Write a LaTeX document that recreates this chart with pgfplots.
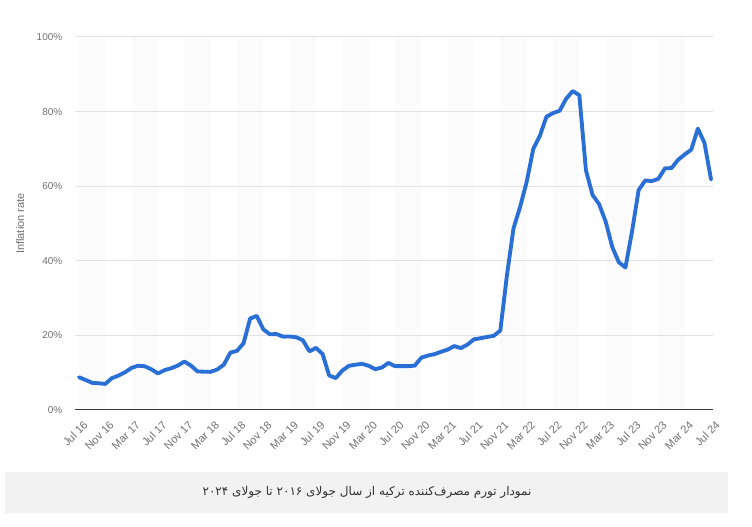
\documentclass[border=0pt]{standalone}
\usepackage{fontspec}
\setmainfont{Liberation Sans}
\newfontfamily\arabicfont[Script=Arabic]{DejaVu Sans}
\TeXXeTstate=1
\usepackage{pgfplots}
\pgfplotsset{compat=1.18}
\definecolor{lineblue}{HTML}{2A6FD6}
\definecolor{tickgray}{HTML}{707070}
\definecolor{gridgray}{HTML}{E3E3E3}
\definecolor{stripe}{HTML}{FBFBFB}
\definecolor{capbg}{HTML}{F2F2F2}
\definecolor{basegray}{HTML}{3A3A3A}
\begin{document}
\begin{tikzpicture}
\begin{scope}[x=0.75pt,y=0.75pt]
\path[use as bounding box] (0,0) rectangle (752,527);
\fill[capbg] (5,14) rectangle (728,55);
\node[font=\arabicfont\fontsize{9pt}{11pt}\selectfont, text=black!80] at (367,34.5) {\beginR نمودار تورم مصرف‌کننده ترکیه از سال جولای ۲۰۱۶ تا جولای ۲۰۲۴\endR};
\end{scope}
\begin{axis}[
  at={(56.25pt,87.75pt)}, anchor=south west,
  scale only axis, width=478.5pt, height=279.75pt,
  xmin=-0.6, xmax=96.3, ymin=0, ymax=100,
  set layers,
  axis line style={draw=none},
  major tick length=0pt,
  /pgf/number format/assume math mode=true,
  ytick={0,20,...,100},
  yticklabel={\pgfmathprintnumber{\tick}\%},
  yticklabel style={font=\fontsize{7.5pt}{9pt}\selectfont, text=tickgray, anchor=east, xshift=-6pt},
  ymajorgrids,
  grid style={gridgray, line width=0.75pt},
  xtick={0,4,...,96},
  xticklabels={Jul 16,Nov 16,Mar 17,Jul 17,Nov 17,Mar 18,Jul 18,Nov 18,Mar 19,Jul 19,Nov 19,Mar 20,Jul 20,Nov 20,Mar 21,Jul 21,Nov 21,Mar 22,Jul 22,Nov 22,Mar 23,Jul 23,Nov 23,Mar 24,Jul 24},
  xticklabel style={font=\fontsize{8.3pt}{10pt}\selectfont, text=tickgray, rotate=45, anchor=north east, xshift=0pt, yshift=-4pt},
  ylabel={Inflation rate},
  ylabel style={font=\fontsize{8.3pt}{10pt}\selectfont, text=tickgray, at={(axis description cs:-0.086,0.5)}, anchor=center},
]
\begin{pgfonlayer}{axis background}
\fill[stripe] (axis cs:0,0) rectangle (axis cs:4,100);
\fill[stripe] (axis cs:8,0) rectangle (axis cs:12,100);
\fill[stripe] (axis cs:16,0) rectangle (axis cs:20,100);
\fill[stripe] (axis cs:24,0) rectangle (axis cs:28,100);
\fill[stripe] (axis cs:32,0) rectangle (axis cs:36,100);
\fill[stripe] (axis cs:40,0) rectangle (axis cs:44,100);
\fill[stripe] (axis cs:48,0) rectangle (axis cs:52,100);
\fill[stripe] (axis cs:56,0) rectangle (axis cs:60,100);
\fill[stripe] (axis cs:64,0) rectangle (axis cs:68,100);
\fill[stripe] (axis cs:72,0) rectangle (axis cs:76,100);
\fill[stripe] (axis cs:80,0) rectangle (axis cs:84,100);
\fill[stripe] (axis cs:88,0) rectangle (axis cs:92,100);
\end{pgfonlayer}
\draw[basegray, line width=1.1pt] (axis cs:-0.6,0) -- (axis cs:96.3,0);
\addplot[lineblue, line width=2.9pt, line join=round, line cap=round, no markers] coordinates {
(0,8.79) (1,8.05) (2,7.28) (3,7.16) (4,7.00) (5,8.53) (6,9.22) (7,10.13)
(8,11.29) (9,11.87) (10,11.72) (11,10.90) (12,9.79) (13,10.68) (14,11.20) (15,11.90)
(16,12.98) (17,11.92) (18,10.35) (19,10.26) (20,10.23) (21,10.85) (22,12.15) (23,15.39)
(24,15.85) (25,17.90) (26,24.52) (27,25.24) (28,21.62) (29,20.30) (30,20.35) (31,19.67)
(32,19.71) (33,19.50) (34,18.71) (35,15.72) (36,16.65) (37,15.01) (38,9.26) (39,8.55)
(40,10.56) (41,11.84) (42,12.15) (43,12.37) (44,11.86) (45,10.94) (46,11.39) (47,12.62)
(48,11.76) (49,11.77) (50,11.75) (51,11.89) (52,14.03) (53,14.60) (54,14.97) (55,15.61)
(56,16.19) (57,17.14) (58,16.59) (59,17.53) (60,18.95) (61,19.25) (62,19.58) (63,19.89)
(64,21.31) (65,36.08) (66,48.69) (67,54.44) (68,61.14) (69,69.97) (70,73.50) (71,78.62)
(72,79.60) (73,80.21) (74,83.45) (75,85.51) (76,84.39) (77,64.27) (78,57.68) (79,55.18)
(80,50.51) (81,43.68) (82,39.59) (83,38.21) (84,47.83) (85,58.94) (86,61.53) (87,61.36)
(88,61.98) (89,64.77) (90,64.86) (91,67.07) (92,68.50) (93,69.80) (94,75.45) (95,71.60)
(96,61.78)
};
\end{axis}
\end{tikzpicture}
\end{document}
